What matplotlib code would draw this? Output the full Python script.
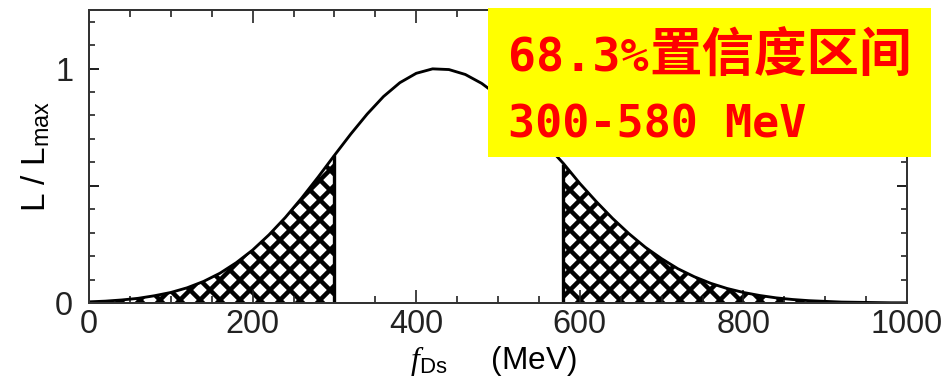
import numpy as np
import matplotlib.pyplot as plt
from matplotlib.patches import Rectangle
from matplotlib.ticker import MultipleLocator, FixedLocator, FuncFormatter

plt.rcParams['font.family'] = 'Liberation Sans'
plt.rcParams['mathtext.fontset'] = 'custom'
plt.rcParams['mathtext.it'] = 'Liberation Serif:italic'
plt.rcParams['mathtext.rm'] = 'Liberation Sans'
plt.rcParams['hatch.linewidth'] = 2.7

# likelihood curve L/Lmax vs f_Ds (MeV)
mev = [0, 20, 40, 60, 80, 100, 120, 140, 160, 180,
       200, 220, 240, 260, 280, 300, 320, 340, 360, 380,
       400, 420, 440, 460, 480, 500, 520, 540, 560, 580,
       600, 620, 640, 660, 680, 700, 720, 740, 760, 780,
       800, 820, 840, 860, 880, 900, 920, 940, 960, 980, 1000]
lik = [0.005, 0.008, 0.013, 0.020, 0.031, 0.045, 0.065, 0.092, 0.127, 0.172,
       0.226, 0.291, 0.365, 0.448, 0.537, 0.630, 0.721, 0.806, 0.881, 0.940,
       0.980, 0.999, 0.996, 0.975, 0.937, 0.885, 0.822, 0.749, 0.671, 0.595,
       0.510, 0.433, 0.361, 0.296, 0.238, 0.189, 0.146, 0.112, 0.084, 0.062,
       0.045, 0.032, 0.022, 0.015, 0.010, 0.007, 0.004, 0.003, 0.002, 0.001, 0.001]

# 68.3% interval limits
lo_edge = 300
hi_edge = 580

box_line1 = '68.3%'
box_line1_cn = '置信度区间'
box_line2 = '300-580 MeV'

mev = np.array(mev)
lik = np.array(lik)
i_lo = list(mev).index(lo_edge)
i_hi = list(mev).index(hi_edge)

fig = plt.figure(figsize=(942/120, 384/120), dpi=120, facecolor='white')
ax = fig.add_axes([0.0945, 0.2109, 0.8684, 0.763])

# hatched tails outside the interval
ax.fill_between(mev[:i_lo+1], lik[:i_lo+1], 0, facecolor='white',
                edgecolor='black', hatch='xx', linewidth=0)
ax.fill_between(mev[i_hi:], lik[i_hi:], 0, facecolor='white',
                edgecolor='black', hatch='xx', linewidth=0)
ax.vlines([mev[i_lo], mev[i_hi]], 0, [lik[i_lo], lik[i_hi]], color='black', lw=2.0)
ax.plot(mev, lik, color='black', lw=1.7)

ax.set_xlim(0, 1000)
ax.set_ylim(0, 1.25)

ax.xaxis.set_major_locator(MultipleLocator(200))
ax.xaxis.set_minor_locator(MultipleLocator(50))
ax.yaxis.set_major_locator(FixedLocator([0, 0.5, 1]))
ax.yaxis.set_minor_locator(MultipleLocator(0.1))
ax.yaxis.set_major_formatter(FuncFormatter(lambda v, p: '%d' % v if v in (0, 1) else ''))

ax.tick_params(which='both', direction='in', top=True, right=True, colors='#222222')
ax.tick_params(axis='x', which='major', length=8, width=1.0, pad=3.5, labelsize=19.5)
ax.tick_params(axis='x', which='minor', length=4, width=1.0)
ax.tick_params(axis='y', which='major', length=6, width=1.2, pad=9.5, labelsize=19.5)
ax.tick_params(axis='y', which='minor', length=3.5, width=1.0)
for sp in ax.spines.values():
    sp.set_color('#333333')
    sp.set_linewidth(1.2)

ax.set_ylabel(r'L / L$_{\mathregular{max}}$', fontsize=20)
ax.yaxis.set_label_coords(-0.045, 0.5)
ax.set_xlabel(r'$f$$_{\mathregular{Ds}}$     (MeV)', fontsize=19)
ax.xaxis.set_label_coords(0.494, -0.14)

# yellow note box
fig.add_artist(Rectangle((488/942, 0.591), 443/942, 0.388,
                         transform=fig.transFigure, facecolor='#ffff00',
                         edgecolor='none', zorder=5))
fig.text(508/942, 0.8125, box_line1, family='DejaVu Sans Mono', weight='bold',
         fontsize=28, color='#ff0000', va='baseline', zorder=6)
fig.text(649/942, 0.8125, box_line1_cn, family=['Noto Sans CJK SC', 'DejaVu Sans'],
         weight='bold', fontsize=31.5, color='#ff0000', va='baseline', zorder=6)
fig.text(508/942, 0.643, box_line2, family='DejaVu Sans Mono', weight='bold',
         fontsize=27, color='#ff0000', va='baseline', zorder=6)

fig.savefig('out.png', dpi=120, facecolor='white')
